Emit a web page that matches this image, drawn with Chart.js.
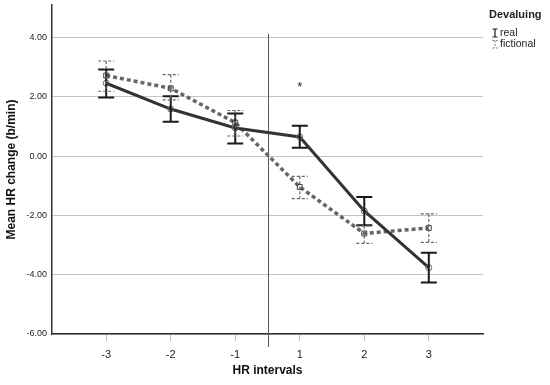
<!DOCTYPE html>
<html>
<head>
<meta charset="utf-8">
<script src="https://cdn.jsdelivr.net/npm/chart.js@4"></script>
<style>
  html, body { margin: 0; padding: 0; background: #fff; }
  #wrap { width: 550px; height: 385px; }
</style>
</head>
<body>
<div id="wrap"><canvas id="hrChart" width="550" height="385"></canvas></div>
<script>
const xLabels = ["-3", "-2", "-1", "1", "2", "3"];
const yTicks = [-6, -4, -2, 0, 2, 4];
const seriesNames = ["real", "fictional"];

const realMean = [2.46, 1.59, 0.95, 0.65, -1.85, -3.76];
const realUpper = [2.92, 2.02, 1.44, 1.03, -1.38, -3.26];
const realLower = [1.98, 1.16, 0.43, 0.28, -2.33, -4.26];

const fictMean = [2.72, 2.29, 1.13, -1.04, -2.61, -2.42];
const fictUpper = [3.21, 2.75, 1.54, -0.68, -2.35, -1.95];
const fictLower = [2.19, 1.90, 0.68, -1.43, -2.94, -2.91];

const markIndex = 3;
const markValue = 2.38;

const FONT = "'Liberation Sans', Arial, Helvetica, sans-serif";

function toPoints(values) {
  return values.map((v, i) => ({ x: i, y: v }));
}

const errorBars = {
  id: "errorBars",
  afterDatasetsDraw(chart) {
    const { ctx, scales: { x, y } } = chart;
    const sets = [
      { upper: realUpper, lower: realLower, color: "#1a1a1a", width: 2, dash: [] },
      { upper: fictUpper, lower: fictLower, color: "#666", width: 1.2, dash: [3, 2] },
    ];
    sets.forEach((s) => {
      ctx.save();
      ctx.strokeStyle = s.color;
      ctx.lineWidth = s.width;
      ctx.setLineDash(s.dash);
      s.upper.forEach((u, i) => {
        const px = x.getPixelForValue(i);
        const top = y.getPixelForValue(u);
        const bot = y.getPixelForValue(s.lower[i]);
        ctx.beginPath();
        ctx.moveTo(px, top);
        ctx.lineTo(px, bot);
        ctx.moveTo(px - 8, top);
        ctx.lineTo(px + 8, top);
        ctx.moveTo(px - 8, bot);
        ctx.lineTo(px + 8, bot);
        ctx.stroke();
      });
      ctx.restore();
    });
  },
};

const extras = {
  id: "extras",
  beforeDatasetsDraw(chart) {
    const { ctx, chartArea, scales: { x, y } } = chart;
    // divider between pre and post intervals
    const px = Math.round(x.getPixelForValue(2.5)) + 0.5;
    ctx.save();
    ctx.strokeStyle = "#555";
    ctx.lineWidth = 1;
    ctx.beginPath();
    ctx.moveTo(px, y.getPixelForValue(4.13));
    ctx.lineTo(px, chartArea.bottom + 13);
    ctx.stroke();
    ctx.restore();
  },
  afterDraw(chart) {
    const { ctx, scales: { x, y } } = chart;
    ctx.save();
    ctx.fillStyle = "#222";
    ctx.font = "13px " + FONT;
    ctx.textAlign = "center";
    ctx.textBaseline = "middle";
    ctx.fillText("*", x.getPixelForValue(markIndex), y.getPixelForValue(markValue) + 2);

    // legend
    ctx.textAlign = "left";
    ctx.font = "bold 11px " + FONT;
    ctx.fillText("Devaluing", 489, 15);
    ctx.font = "10.5px " + FONT;
    ctx.fillText(seriesNames[0], 500, 33);
    ctx.fillText(seriesNames[1], 500, 44);

    ctx.strokeStyle = "#1a1a1a";
    ctx.lineWidth = 1.2;
    ctx.beginPath();
    ctx.moveTo(495, 29); ctx.lineTo(495, 37);
    ctx.moveTo(492.5, 29); ctx.lineTo(497.5, 29);
    ctx.moveTo(492.5, 37); ctx.lineTo(497.5, 37);
    ctx.stroke();

    ctx.strokeStyle = "#777";
    ctx.lineWidth = 1;
    ctx.setLineDash([2, 1.5]);
    ctx.beginPath();
    ctx.moveTo(495, 40.5); ctx.lineTo(495, 48);
    ctx.moveTo(492.5, 40.5); ctx.lineTo(497.5, 40.5);
    ctx.moveTo(492.5, 48); ctx.lineTo(497.5, 48);
    ctx.stroke();
    ctx.restore();
  },
};

new Chart(document.getElementById("hrChart"), {
  type: "line",
  data: {
    datasets: [
      {
        label: seriesNames[0],
        data: toPoints(realMean),
        borderColor: "#333",
        borderWidth: 3,
        pointStyle: "circle",
        pointRadius: 3,
        pointBorderColor: "#666",
        pointBorderWidth: 1,
        pointBackgroundColor: "rgba(255,255,255,0)",
        tension: 0,
      },
      {
        label: seriesNames[1],
        data: toPoints(fictMean),
        borderColor: "#666",
        borderWidth: 3.5,
        borderDash: [4, 3],
        pointStyle: "rect",
        pointRadius: 3.5,
        pointBorderColor: "#444",
        pointBorderWidth: 1,
        pointBackgroundColor: "rgba(255,255,255,0)",
        tension: 0,
      },
    ],
  },
  options: {
    responsive: false,
    animation: false,
    devicePixelRatio: 1,
    layout: { padding: { left: 0, right: 67, top: 4, bottom: 0 } },
    plugins: {
      legend: { display: false },
      tooltip: { enabled: false },
    },
    scales: {
      x: {
        type: "linear",
        min: -0.84,
        max: 5.84,
        afterBuildTicks: (scale) => {
          scale.ticks = xLabels.map((_, i) => ({ value: i }));
        },
        afterFit: (scale) => { scale.height = 51; },
        ticks: {
          callback: (v) => xLabels[v],
          color: "#222",
          font: { family: FONT, size: 11 },
          padding: 7,
          maxRotation: 0,
        },
        grid: { drawOnChartArea: false, tickLength: 7, color: "#bbb" },
        border: { color: "#333", width: 1.5 },
        title: {
          display: true,
          text: "HR intervals",
          color: "#111",
          font: { family: FONT, size: 12, weight: "bold" },
          padding: { top: 0, bottom: 7 },
        },
      },
      y: {
        min: -6,
        max: 5.1,
        afterBuildTicks: (scale) => {
          scale.ticks = yTicks.map((v) => ({ value: v }));
        },
        afterFit: (scale) => {
          scale.width = 52;
          scale.paddingTop = 0;
          scale.paddingBottom = 0;
        },
        ticks: {
          callback: (v) => v.toFixed(2),
          color: "#222",
          font: { family: FONT, size: 9 },
          padding: 5,
        },
        grid: { drawTicks: false, color: "#c4c4c4", lineWidth: 1 },
        border: { color: "#333", width: 1.5 },
        title: {
          display: true,
          text: "Mean HR change (b/min)",
          color: "#111",
          font: { family: FONT, size: 12, weight: "bold" },
          padding: { top: 4, bottom: 0 },
        },
      },
    },
  },
  plugins: [extras, errorBars],
});
</script>
</body>
</html>
